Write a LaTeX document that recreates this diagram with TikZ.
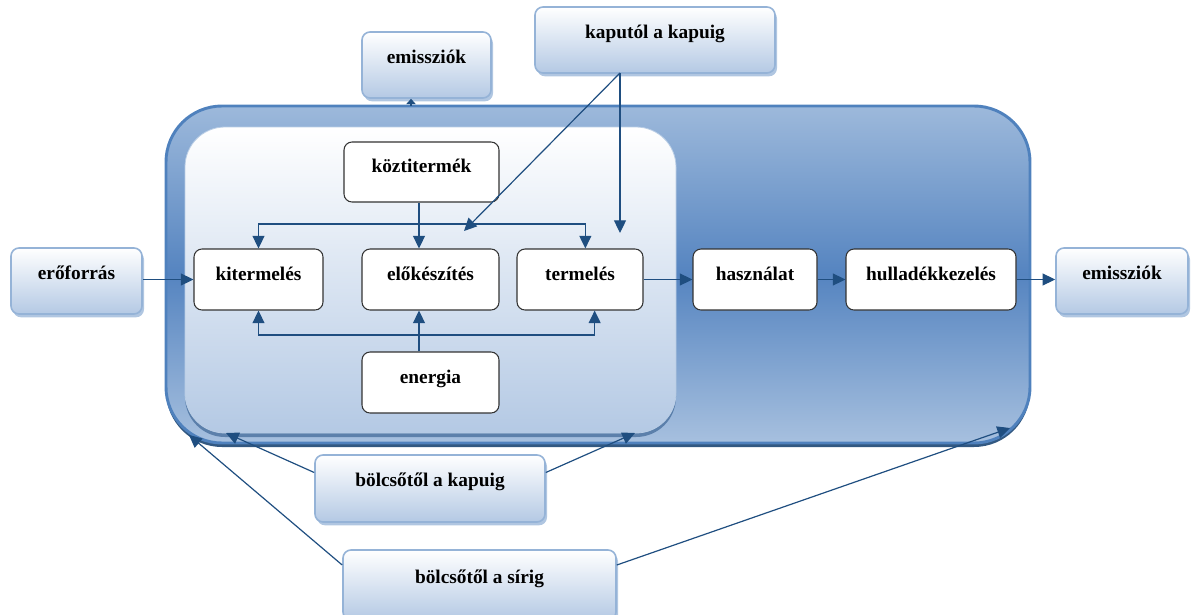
\documentclass[tikz,border=0pt]{standalone}
\usepackage{fontspec}
\setmainfont{Liberation Serif}
\usetikzlibrary{arrows.meta,shadows}
\definecolor{vonal}{HTML}{1F4E80}
\definecolor{keret}{HTML}{4F81BD}
\definecolor{kekfent}{HTML}{9DB9DB}
\definecolor{kekkozep}{HTML}{5584C0}
\definecolor{kekalj}{HTML}{B4C9E4}
\definecolor{cimkekeret}{HTML}{95B3D7}
\tikzset{
  meret/.style 2 args={minimum width=#1*.75pt, minimum height=#2*.75pt},
  lepes/.style={draw=black!80, fill=white, rounded corners=6pt, line width=.8pt,
    inner sep=0pt, text height=10pt, text depth=9pt},
  cimke/.style={draw=cimkekeret, top color=white, bottom color=kekalj, rounded corners=6pt,
    line width=1.2pt, inner sep=0pt, text height=10pt, text depth=13pt,
    drop shadow={shadow xshift=1.5pt, shadow yshift=-2.5pt, fill=keret, opacity=.45}},
  nyil/.style={draw=vonal, line width=.9pt, -{Triangle[width=9pt,length=9.5pt]}},
}
\begin{document}
\begin{tikzpicture}[x=.75pt, y=-.75pt, font=\fontsize{14.5}{16}\selectfont\bfseries]
\useasboundingbox (0,0) rectangle (1192,614);

% keretek
\shade[top color=kekfent, bottom color=kekfent!90, middle color=kekkozep, draw=keret, line width=2.2pt,
  rounded corners=42pt, drop shadow={shadow xshift=0pt, shadow yshift=-3pt, fill=vonal!90!black, opacity=.9}]
  (166,106) rectangle (1030,443);
\shade[top color=white, bottom color=kekalj, draw=keret!40, line width=.6pt, rounded corners=30pt,
  drop shadow={shadow xshift=0pt, shadow yshift=-3pt, fill=keret!80!black, opacity=.7}]
  (185,127) rectangle (676,433);

% dobozok
\node[cimke, meret={129}{66}] (emisszio1) at (426.5,65) {emissziók};
\node[cimke, meret={240}{66}] (kaputol) at (655,40) {kaputól a kapuig};
\node[cimke, meret={131}{66}] (eroforras) at (76.5,281) {erőforrás};
\node[cimke, meret={132}{66}] (emisszio2) at (1122,281) {emissziók};
\node[cimke, meret={230}{67}] (bolcso1) at (430,488.5) {bölcsőtől a kapuig};
\node[cimke, meret={273}{70}] (bolcso2) at (479.5,585) {bölcsőtől a sírig};

\node[lepes, meret={155}{60}] (koztitermek) at (421.5,172) {köztitermék};
\node[lepes, meret={129}{61}] (kitermeles) at (258.5,279.5) {kitermelés};
\node[lepes, meret={137}{61}] (elokeszites) at (430.5,279.5) {előkészítés};
\node[lepes, meret={126}{61}] (termeles) at (580,279.5) {termelés};
\node[lepes, meret={124}{61}] (hasznalat) at (755,279.5) {használat};
\node[lepes, meret={170}{61}] (hulladek) at (931,279.5) {hulladékkezelés};
\node[lepes, meret={137}{61}] (energia) at (430.5,382.5) {energia};

\coordinate (fbusz) at (419,224);
\coordinate (abusz) at (419,335);
\coordinate (kimenet) at (411,106);
\coordinate (kk) at (620,73);
\coordinate (kk1) at (464,231);
\coordinate (kk2) at (620,233);
\coordinate (c1) at (226,433);
\coordinate (c2) at (635,433);
\coordinate (c3) at (189,435);
\coordinate (c4) at (1010,428);

% nyilak
\draw[nyil] (fbusz |- koztitermek.south) -- (fbusz |- elokeszites.north);
\draw[nyil] (fbusz) -| (kitermeles.north);
\draw[nyil] (fbusz) -| ([xshift=4pt]termeles.north);
\draw[nyil] (abusz |- energia.north) -- (abusz |- elokeszites.south);
\draw[nyil] (abusz) -| (kitermeles.south);
\draw[nyil] (abusz) -| ([xshift=11pt]termeles.south);

\draw[nyil] (eroforras.east |- kitermeles) -- (kitermeles.west);
\draw[nyil] (termeles) -- (hasznalat);
\draw[nyil] (hasznalat) -- (hulladek);
\draw[nyil] (hulladek) -- (emisszio2.west |- hulladek);
\draw[nyil, -{Triangle[width=7pt,length=4pt]}] (kimenet) -- (kimenet |- emisszio1.south);

\draw[nyil] (kk) -- (kk1);
\draw[nyil] (kk) -- (kk2);
\draw[nyil] ([yshift=12pt]bolcso1.west) -- (c1);
\draw[nyil] ([yshift=12pt]bolcso1.east) -- (c2);
\draw[nyil] ([yshift=15pt]bolcso2.west) -- (c3);
\draw[nyil] ([yshift=15pt]bolcso2.east) -- (c4);
\end{tikzpicture}
\end{document}
